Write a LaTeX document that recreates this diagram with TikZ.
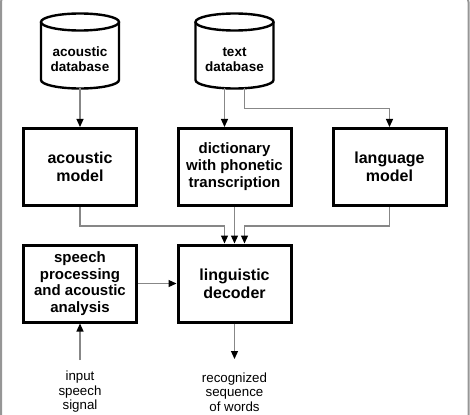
\documentclass[tikz,border=0pt]{standalone}
\usepackage{fontspec}
\setmainfont{Liberation Sans}
\usetikzlibrary{arrows.meta}
\definecolor{conngray}{RGB}{135,135,135}
\definecolor{framegray}{RGB}{150,150,150}
\tikzset{
  box/.style={draw=black, line width=3pt, minimum width=113pt, minimum height=77pt, inner sep=0pt, align=center, font=\bfseries\fontsize{16}{18}\selectfont},
  dbtext/.style={inner sep=0pt, align=center, font=\bfseries\fontsize{13.5}{15}\selectfont},
  dbline/.style={draw=black, line width=2.4pt},
  dbanchor/.style={inner sep=0pt, minimum width=78pt, minimum height=74pt},
  conn/.style={draw=conngray, line width=1.2pt, -{Triangle[length=8pt,width=7pt,color=black]}},
  lbl/.style={inner sep=0pt, align=center, font=\fontsize{13.3}{14.5}\selectfont}
}
\begin{document}
\begin{tikzpicture}[x=1pt,y=-1pt]
\useasboundingbox (0,0) rectangle (470,414);
% frame
\draw[framegray, line width=2pt, rounded corners=8pt] (1,-6) rectangle (468.5,440);
% cylinders
\foreach \cx in {80,234.5}{
  \draw[dbline] (\cx-39,22) -- (\cx-39,80) arc[start angle=180,end angle=360,x radius=39pt,y radius=8.5pt] -- (\cx+39,22);
  \draw[dbline] (\cx,22) ellipse[x radius=39pt, y radius=8.5pt];
}
\node[dbanchor] (adb) at (80,51) {};
\node[dbanchor] (tdb) at (234.5,51) {};
\node[dbtext] (adbt) at (80,59.5) {acoustic\\database};
\node[dbtext] (tdbt) at (234.5,59.5) {text\\database};
% row 1
\node[box] (am) at (80,167) {acoustic\\model};
\node[box, font=\bfseries\fontsize{15}{17}\selectfont] (dict) at (234.5,167) {dictionary\\with phonetic\\transcription};
\node[box] (lm) at (389.5,167) {language\\model};
% row 2
\node[box, font=\bfseries\fontsize{15}{16.5}\selectfont] (sp) at (80,283.5) {speech\\processing\\and acoustic\\analysis};
\node[box] (dec) at (234.5,283.5) {linguistic\\decoder};
% labels
\node[lbl] (in) at (80,392) {input\\speech\\signal};
\node[lbl] (out) at (234.5,392) {recognized\\sequence\\of words};
\coordinate (inTop) at (80,360);
\coordinate (outEnd) at (234.5,359);
% connectors
\draw[conn] (adb.south) -- (am.north);
\draw[conn] ([xshift=-10pt]tdb.south) -- ([xshift=-10pt]dict.north);
\draw[conn] ([xshift=10pt]tdb.south) -- ++(0,20) -| (lm.north);
\draw[conn] (am.south) -- ++(0,19) -| ([xshift=-10pt]dec.north);
\draw[conn] (dict.south) -- (dec.north);
\draw[conn] (lm.south) -- ++(0,19) -| ([xshift=10pt]dec.north);
\draw[conn] (sp.east) -- (dec.west);
\draw[conn] (inTop) -- (sp.south);
\draw[conn] (dec.south) -- (outEnd);
\end{tikzpicture}
\end{document}
